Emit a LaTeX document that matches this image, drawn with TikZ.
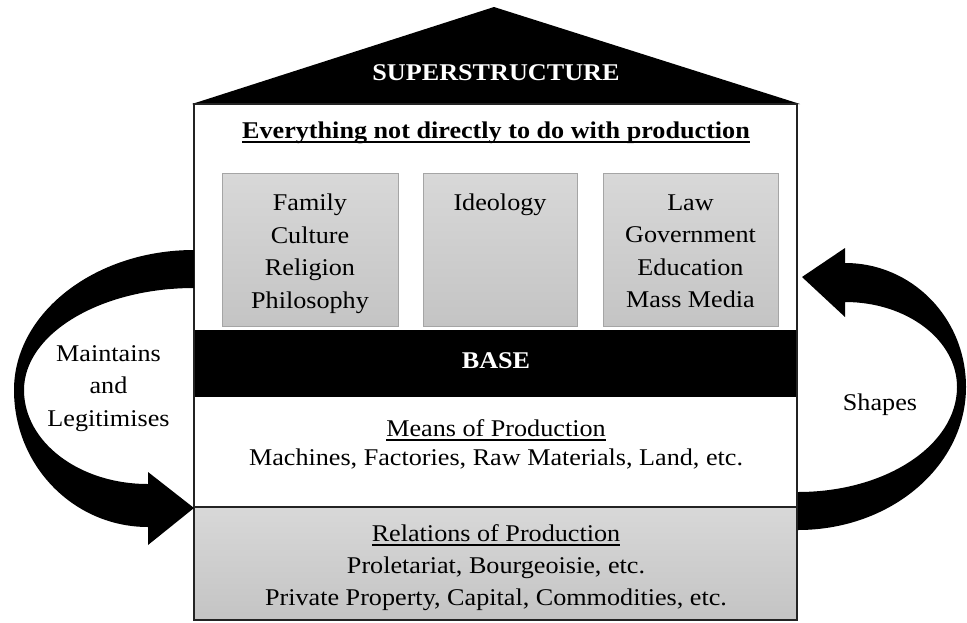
\documentclass[tikz,border=0pt]{standalone}
\usepackage{fontspec}
\setmainfont{Liberation Serif}[FakeStretch=1.09]

% underlined text with a rule of chosen thickness
\newcommand{\undl}[2]{\setbox0=\hbox{#2}\leavevmode\rlap{\rule[-4.5pt]{\wd0}{#1}}\box0}

\definecolor{greytop}{RGB}{216,216,216}
\definecolor{greybot}{RGB}{196,196,196}
\definecolor{boxline}{RGB}{165,165,165}
\definecolor{frameline}{RGB}{35,35,35}

\begin{document}
\begin{tikzpicture}[x=1pt,y=-1pt,
  txt/.style={inner sep=0pt, font={\fontsize{24}{32.5}\selectfont}},
  boldtxt/.style={txt, font={\fontsize{24}{32.5}\selectfont\bfseries}},
  greybox/.style={draw=boxline, line width=1pt, top color=greytop, bottom color=greybot,
                  inner sep=0pt, minimum height=153pt},
  curvedarrow/.style={fill=black}]

\useasboundingbox[fill=white] (0,0) rectangle (967,622);

% roof
\fill[black] (192,104) -- (494,7) -- (800,104) -- cycle;
\node[boldtxt, text=white, anchor=base] (super) at (496,80) {SUPERSTRUCTURE};

% house body
\fill[white] (194,104) rectangle (797,620);
\fill[black] (194,330) rectangle (797,397);
\shade[top color=greytop, bottom color=greybot] (194,507) rectangle (797,620);
\draw[frameline, line width=1.5pt] (194,507) -- (797,507);
\draw[frameline, line width=1.5pt] (194,104) rectangle (797,620);

\node[boldtxt, anchor=base] (tagline) at (496,138)
  {\undl{2pt}{Everything not directly to do with production}};

% superstructure institutions
\node[greybox, minimum width=176pt] (box1) at (310,249.5) {};
\node[greybox, minimum width=154pt] (box2) at (500,249.5) {};
\node[greybox, minimum width=175pt] (box3) at (690.5,249.5) {};

\node[txt, align=center, anchor=north] (fam) at (310,194)
  {Family\\Culture\\Religion\\Philosophy};
\node[txt, align=center, anchor=north] (ideo) at (500,194) {Ideology};
\node[txt, align=center, anchor=north] (law) at (690.5,194.5)
  {Law\\Government\\Education\\Mass Media};

% base
\node[boldtxt, text=white, anchor=base] (base) at (496,368) {BASE};
\node[txt, anchor=base] (means) at (496,436) {\undl{1.4pt}{Means of Production}};
\node[txt, anchor=base] (meanslist) at (496,465)
  {Machines, Factories, Raw Materials, Land, etc.};
\node[txt, anchor=base] (rel) at (496,541) {\undl{1.4pt}{Relations of Production}};
\node[txt, anchor=base] (rel1) at (496,573) {Proletariat, Bourgeoisie, etc.};
\node[txt, anchor=base] (rel2) at (496,605) {Private Property, Capital, Commodities, etc.};

% left curved arrow: superstructure back down to the relations of production
\fill[curvedarrow] (194,250) .. controls (95,250) and (14,313) .. (14,390)
  .. controls (14,466) and (74,527) .. (148,527)
  -- (148,545) -- (194,508) -- (148,472) -- (148,484)
  .. controls (79,484) and (24,442) .. (24,390)
  .. controls (24,334) and (100,288) .. (194,288) -- cycle;

% right curved arrow: base up to the superstructure
\fill[curvedarrow] (798,530) .. controls (891,530) and (966,466) .. (966,387)
  .. controls (966,318) and (912,263) .. (845,263)
  -- (845,248) -- (802,277) -- (845,317) -- (845,302)
  .. controls (907,302) and (957,340) .. (957,387)
  .. controls (957,445) and (886,492) .. (798,492) -- cycle;

\node[txt, align=center, anchor=north, font={\fontsize{24}{32.5}\selectfont}] (maint) at (108.5,345)
  {Maintains\\and\\Legitimises};
\node[txt, anchor=base] (shapes) at (880,410) {Shapes};

\end{tikzpicture}
\end{document}
